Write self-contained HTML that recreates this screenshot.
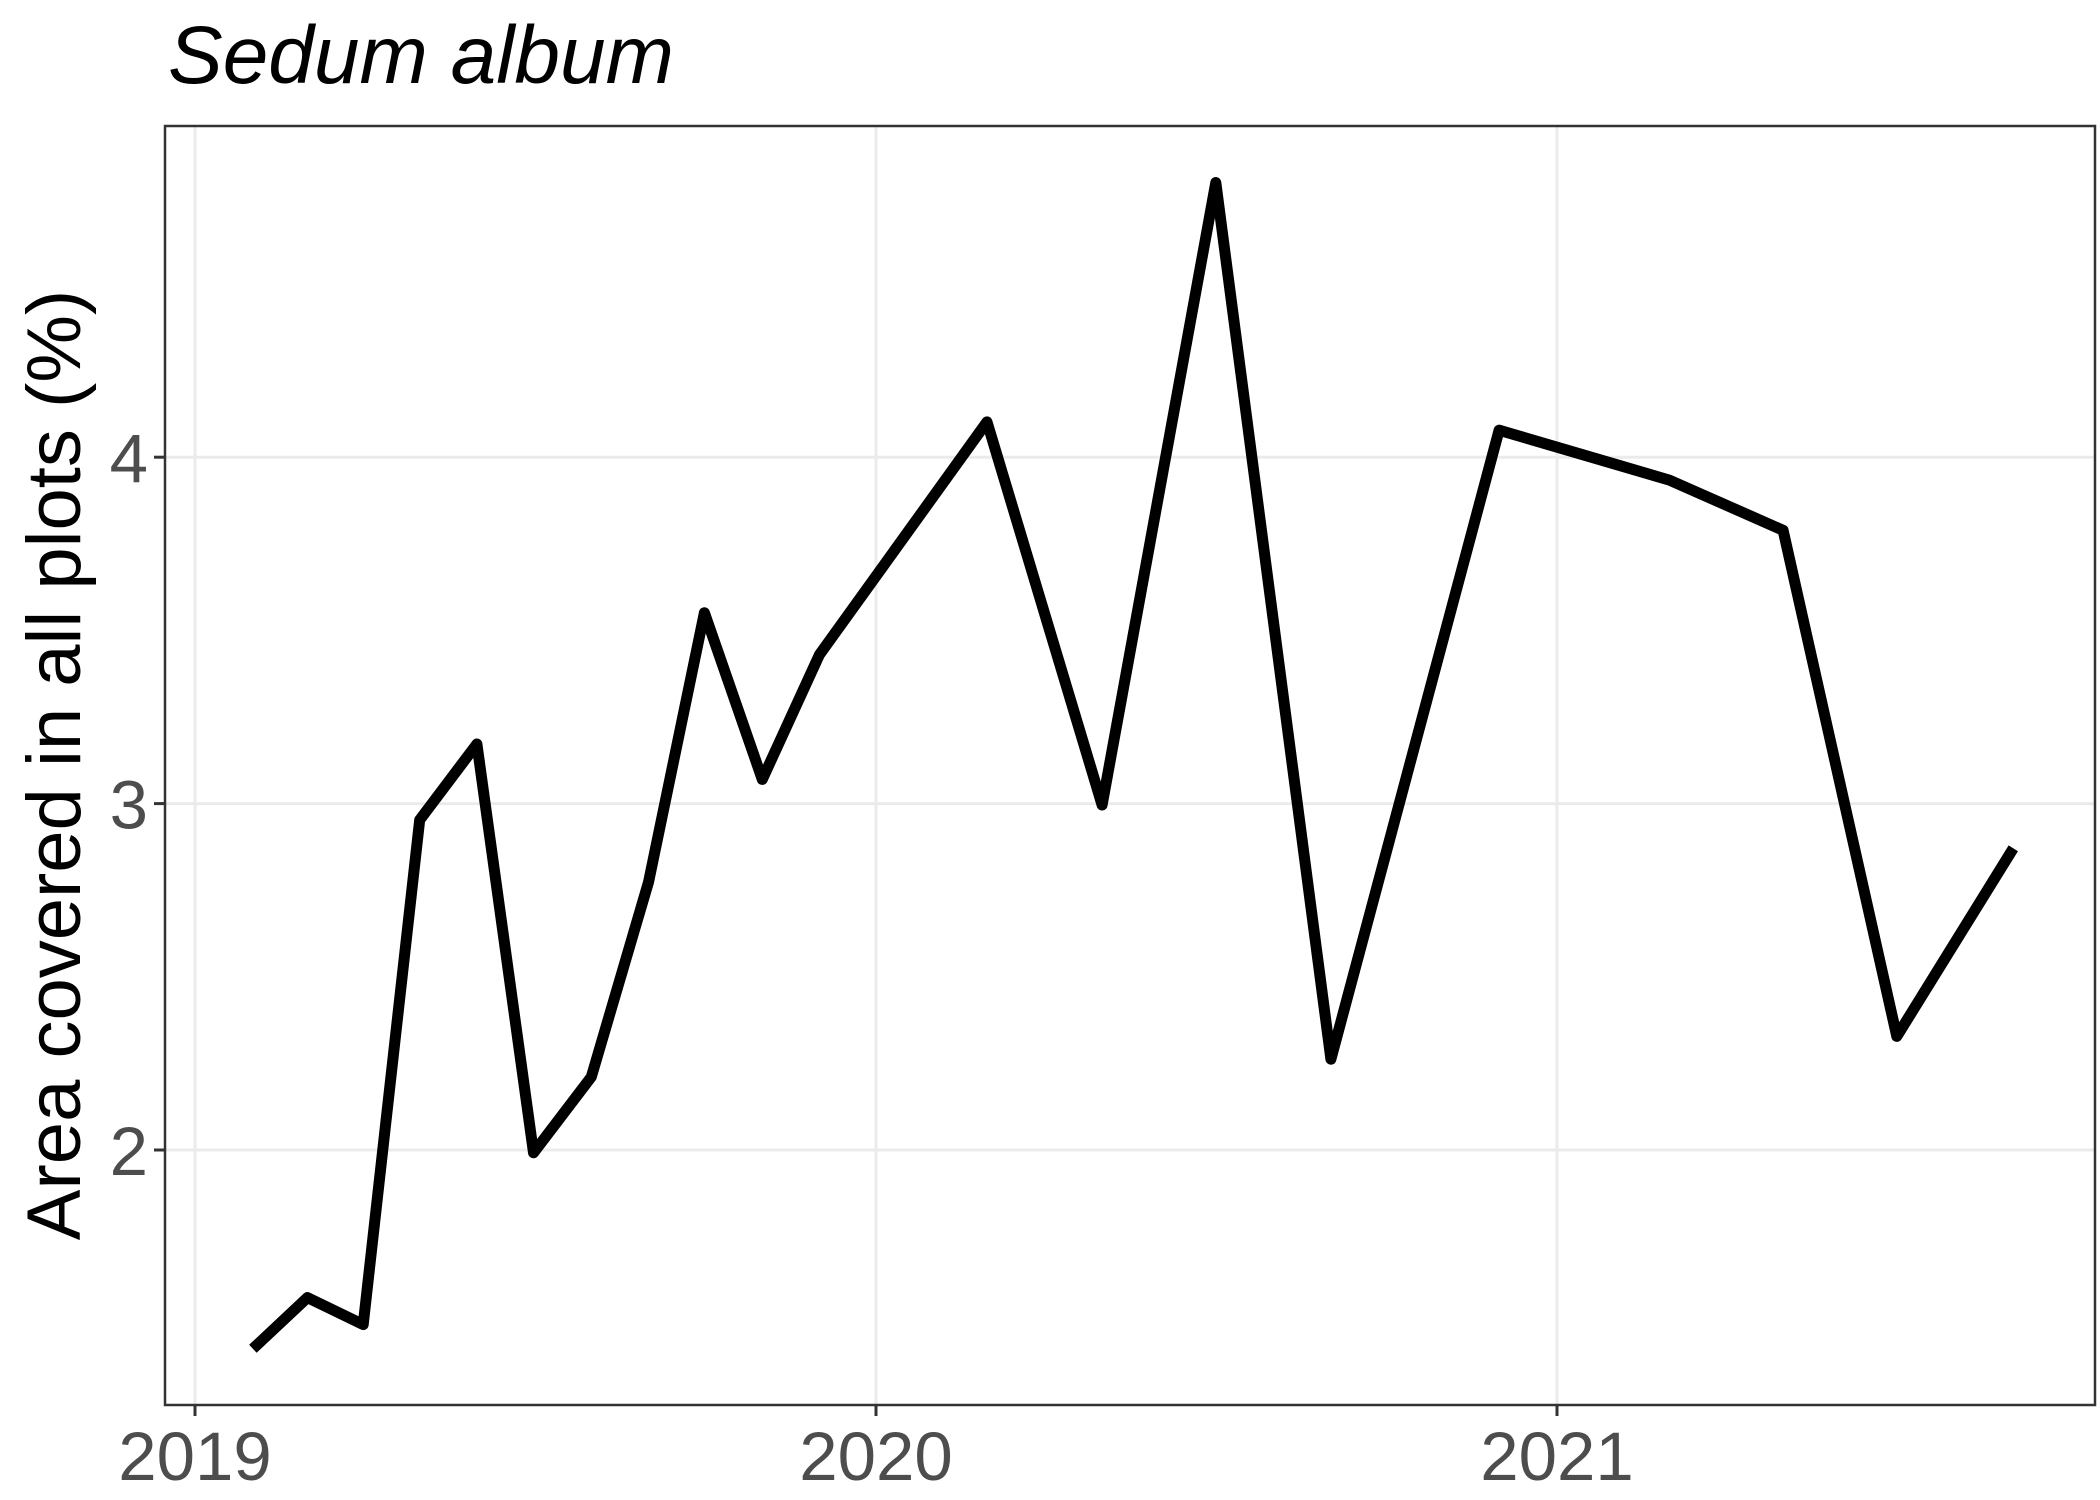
<!DOCTYPE html>
<html><head><meta charset="utf-8"><style>
html,body{margin:0;padding:0;background:#fff;}
svg{display:block;font-family:"Liberation Sans",Arial,sans-serif;}
</style></head><body>
<svg id="chart" width="2100" height="1500" viewBox="0 0 2100 1500" xmlns="http://www.w3.org/2000/svg">
<rect width="2100" height="1500" fill="#fff"/>
<text x="168" y="83" font-size="82" font-style="italic" fill="#000">Sedum album</text>
<g id="grid"></g>
<g id="series"></g>
<rect x="165" y="126" width="1930" height="1279" fill="none" stroke="#333" stroke-width="2.5"/>
<g id="axes"></g>
<text transform="translate(80,765) rotate(-90)" text-anchor="middle" font-size="76" fill="#000">Area covered in all plots (%)</text>
</svg>
<script>
const xTicks = [2019, 2020, 2021];
const xTickLabels = ["2019", "2020", "2021"];
const yTicks = [2, 3, 4];
const yTickLabels = ["2", "3", "4"];
const dates = [2019.085,2019.165,2019.247,2019.330,2019.414,2019.497,2019.582,2019.666,2019.748,2019.833,2019.917,2020.163,2020.332,2020.499,2020.668,2020.915,2021.165,2021.332,2021.499,2021.670];
const cover = [1.426,1.574,1.496,2.953,3.172,1.992,2.211,2.773,3.551,3.070,3.430,4.102,2.996,4.793,2.262,4.078,3.934,3.789,2.328,2.871];

const NS = "http://www.w3.org/2000/svg";
const L = 165, R = 2095, T = 126, B = 1405;
function xScale(v){ return 195 + (v - 2019) * 681; }
function yScale(v){ return 1150 - (v - 2) * 346.4; }
function mk(tag, attrs, parent){ const e = document.createElementNS(NS, tag); for (const k in attrs) e.setAttribute(k, attrs[k]); parent.appendChild(e); return e; }

const grid = document.getElementById('grid');
const axes = document.getElementById('axes');
xTicks.forEach((t, i) => {
  const x = xScale(t);
  const g = mk('line', {x1:x, x2:x, y1:T, y2:B, stroke:'#ebebeb', 'stroke-width':3}, grid);
  
  
  const tk = mk('line', {x1:x, x2:x, y1:B, y2:B+11, stroke:'#333', 'stroke-width':3}, axes);
  
  
  const tx = mk('text', {x:x, y:1480, 'text-anchor':'middle', 'font-size':69, fill:'#4d4d4d'}, axes);
  tx.textContent = xTickLabels[i];
  
  
});
yTicks.forEach((t, i) => {
  const y = yScale(t);
  const g = mk('line', {x1:L, x2:R, y1:y, y2:y, stroke:'#ebebeb', 'stroke-width':3}, grid);
  
  
  const tk = mk('line', {x1:L-11, x2:L, y1:y, y2:y, stroke:'#333', 'stroke-width':3}, axes);
  
  
  const tx = mk('text', {x:L-17, y:y+25, 'text-anchor':'end', 'font-size':69, fill:'#4d4d4d'}, axes);
  tx.textContent = yTickLabels[i];
  
  
});
const pts = dates.map((d, i) => xScale(d).toFixed(1) + ',' + yScale(cover[i]).toFixed(1)).join(' ');
const line = mk('polyline', {points:pts, fill:'none', stroke:'#000', 'stroke-width':11, 'stroke-linejoin':'round'}, document.getElementById('series'));


</script>
</body></html>
